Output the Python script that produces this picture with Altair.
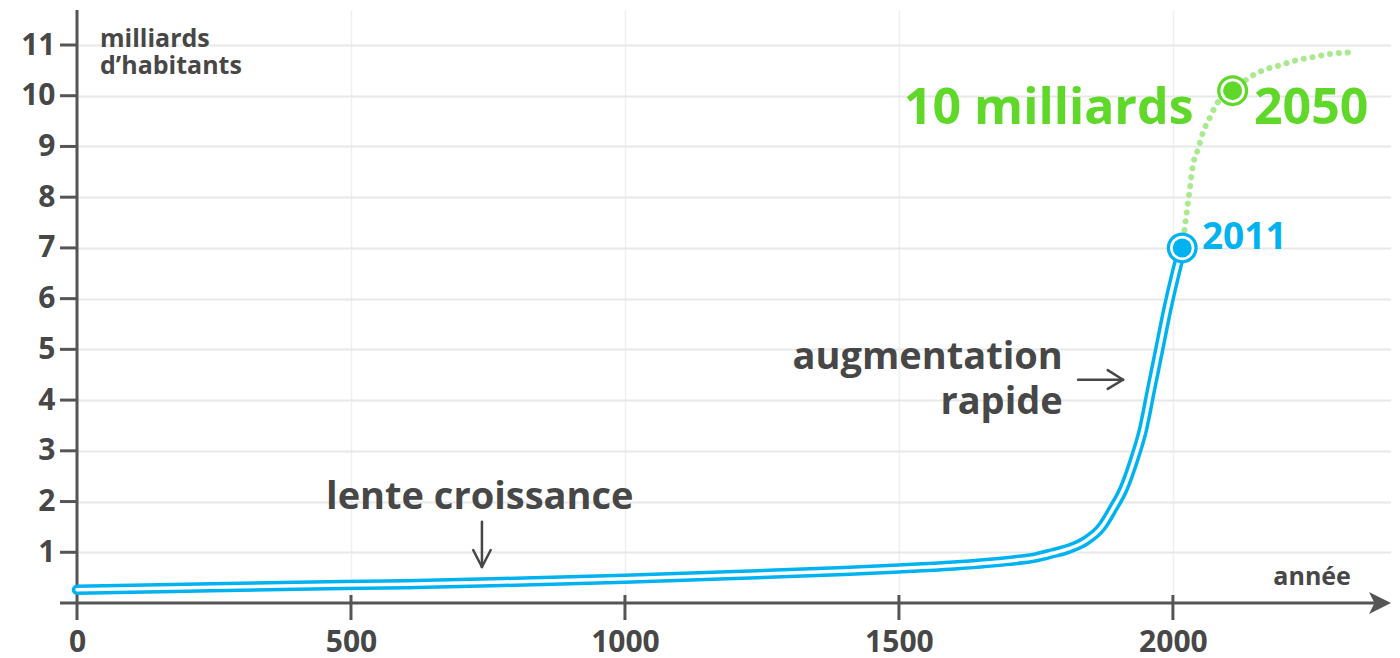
import altair as alt
import pandas as pd

FONT = "Open Sans"
GRAY = "#474747"
AXIS = "#555555"
BLUE = "#00b3f0"
GREEN = "#5fd82a"
GREEN_DOT = "#aae98e"

# axis ticks
x_ticks = [0, 500, 1000, 1500, 2000]
y_ticks = [1, 2, 3, 4, 5, 6, 7, 8, 9, 10, 11]

# historical curve (year, billions of inhabitants)
hist_year = [0, 200, 400, 600, 800, 1000, 1200, 1400, 1500, 1600, 1700, 1750,
             1780, 1810, 1840, 1870, 1890, 1910, 1930, 1945, 1960, 1975, 1990,
             2005, 2017]
hist_pop = [0.26, 0.30, 0.34, 0.37, 0.42, 0.48, 0.55, 0.63, 0.68, 0.74, 0.83, 0.90,
            0.98, 1.07, 1.22, 1.50, 1.85, 2.25, 2.85, 3.40, 4.20, 5.00, 5.80,
            6.50, 7.00]

# projection (dotted)
proj_year = [2017, 2024, 2030, 2036, 2046, 2055, 2068, 2080, 2095, 2109, 2125,
             2141, 2164, 2195, 2226, 2255, 2286, 2332]
proj_pop = [7.00, 7.60, 8.10, 8.60, 8.95, 9.28, 9.58, 9.84, 9.98, 10.10, 10.24,
            10.37, 10.50, 10.60, 10.70, 10.76, 10.82, 10.86]

# highlighted points
mark_year = [2017, 2109]
mark_pop = [7.0, 10.1]
mark_color = [BLUE, GREEN]

W, H = 1314, 593
xs = alt.Scale(domain=[0, 2398], nice=False, zero=False)
ys = alt.Scale(domain=[0, 11.69], nice=False, zero=False)

xaxis = alt.Axis(values=x_ticks, title=None, grid=True, gridColor="#efefef",
                 gridWidth=1.5, domain=False, ticks=False, tickSize=0,
                 labelFont=FONT, labelFontSize=30, labelFontWeight="bold",
                 labelColor=GRAY, labelPadding=48, labelBaseline="alphabetic",
                 labelFlush=False, labelOverlap=False, format="d")
yaxis = alt.Axis(values=y_ticks, title=None, grid=True, gridColor="#e8e8e8",
                 gridWidth=2, domain=False, ticks=False, tickSize=0,
                 labelFont=FONT, labelFontSize=30, labelFontWeight="bold",
                 labelColor=GRAY, labelPadding=22, labelAlign="right",
                 labelBaseline="middle", minExtent=69, maxExtent=69,
                 labelOverlap=False, format="d")


def X(f="x"):
    return alt.X(f"{f}:Q", scale=xs, axis=xaxis)


def Y(f="y"):
    return alt.Y(f"{f}:Q", scale=ys, axis=yaxis)


one = pd.DataFrame({"k": [0]})

# axis lines, arrowhead, ticks
y_line = alt.Chart(one).mark_rule(color=AXIS, strokeWidth=3).encode(
    x=alt.value(0), y=alt.value(0), y2=alt.value(610))
x_line = alt.Chart(one).mark_rule(color=AXIS, strokeWidth=3).encode(
    x=alt.value(-17), x2=alt.value(1303), y=alt.value(H))
arrow_head = alt.Chart(one).mark_point(
    shape="M-1,-1L1,0L-1,1L-0.5,0Z", filled=True, size=484, color=AXIS, opacity=1
).encode(x=alt.value(1303), y=alt.value(H))
x_tick_marks = alt.Chart(pd.DataFrame({"x": x_ticks[1:]})).mark_rule(
    color=AXIS, strokeWidth=3).encode(x=X(), y=alt.value(H - 8), y2=alt.value(H + 17))
y_tick_marks = alt.Chart(pd.DataFrame({"y": y_ticks})).mark_rule(
    color=AXIS, strokeWidth=3).encode(y=Y(), x=alt.value(-17), x2=alt.value(0))

hist = pd.DataFrame({"x": hist_year, "y": hist_pop})
proj = pd.DataFrame({"x": proj_year, "y": proj_pop})
pts = pd.DataFrame({"x": mark_year, "y": mark_pop, "c": mark_color})

blue_outer = alt.Chart(hist).mark_line(
    color=BLUE, strokeWidth=10.5, interpolate="monotone", strokeCap="round",
    strokeJoin="round").encode(x=X(), y=Y())
blue_inner = alt.Chart(hist).mark_line(
    color="white", strokeWidth=3.5, interpolate="monotone", strokeCap="round",
    strokeJoin="round").encode(x=X(), y=Y())
green_line = alt.Chart(proj).mark_line(
    color=GREEN_DOT, strokeWidth=6, strokeDash=[0.1, 8.8], strokeCap="round",
    interpolate="monotone").encode(x=X(), y=Y())

pt_outer = alt.Chart(pts).mark_circle(size=961, opacity=1).encode(
    x=X(), y=Y(), color=alt.Color("c:N", scale=None))
pt_ring = alt.Chart(pts).mark_circle(size=600, opacity=1, color="white").encode(
    x=X(), y=Y())
pt_inner = alt.Chart(pts).mark_circle(size=361, opacity=1).encode(
    x=X(), y=Y(), color=alt.Color("c:N", scale=None))


def label(x, y, text, size, color, align="left"):
    df = pd.DataFrame({"x": [x], "y": [y], "t": [text]})
    return alt.Chart(df).mark_text(
        font=FONT, fontSize=size, fontWeight="bold", color=color, align=align,
        baseline="alphabetic").encode(x=X(), y=Y(), text="t:N")


texts = [
    label(42, 10.96, "milliards", 25, GRAY),
    label(42, 10.43, "d’habitants", 25, GRAY),
    label(735, 1.85, "lente croissance", 38, GRAY, "center"),
    label(1799, 4.61, "augmentation", 38, GRAY, "right"),
    label(1799, 3.73, "rapide", 38, GRAY, "right"),
    label(1509, 9.44, "10 milliards", 50, GREEN),
    label(2148, 9.44, "2050", 50, GREEN),
    label(2053, 6.98, "2011", 37, BLUE),
    label(2254, 0.355, "année", 25, GRAY, "center"),
]

# annotation arrows (segments)
seg = pd.DataFrame({
    "x": [739, 723, 755, 1827, 1881, 1881],
    "y": [1.60, 1.045, 1.045, 4.40, 4.59, 4.22],
    "x2": [739, 739, 739, 1909, 1909, 1909],
    "y2": [0.71, 0.71, 0.71, 4.40, 4.40, 4.40],
})
arrows = alt.Chart(seg).mark_rule(color=GRAY, strokeWidth=2.5, strokeCap="round").encode(
    x=X(), y=Y(), x2="x2:Q", y2="y2:Q")

chart = alt.layer(
    y_line, x_line, arrow_head, x_tick_marks, y_tick_marks,
    blue_outer, blue_inner, green_line, pt_outer, pt_ring, pt_inner,
    arrows, *texts
).properties(
    width=W, height=H, padding={"left": 0, "top": 0, "right": 0, "bottom": 0},
    background="white"
).configure_view(stroke=None)

chart.save("out.html", embed_options={"renderer": "svg", "actions": False})
